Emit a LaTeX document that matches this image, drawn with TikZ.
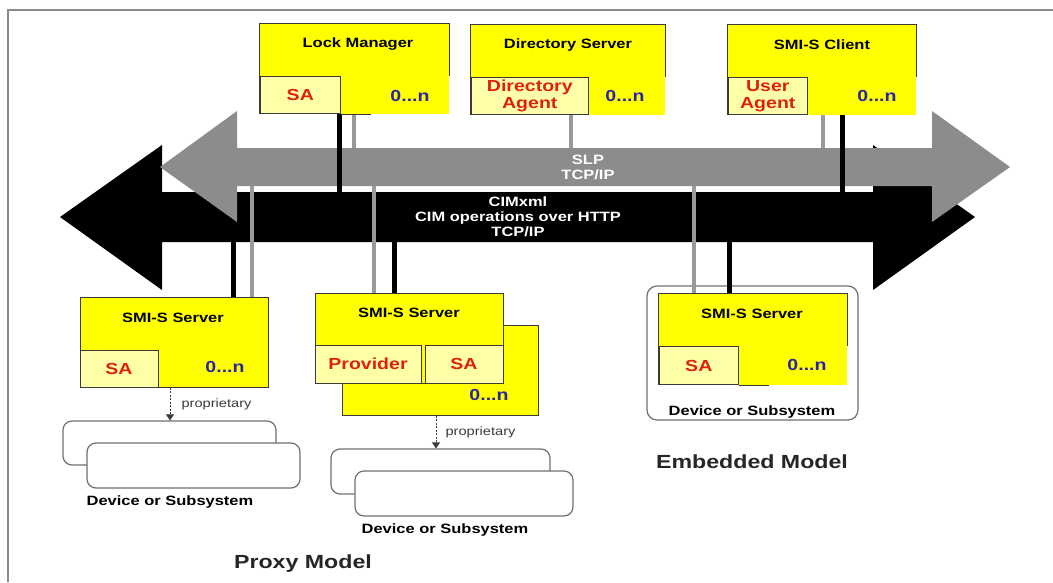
\documentclass[tikz,border=0pt]{standalone}
\usepackage{fontspec}
\setmainfont{Liberation Sans}[FakeStretch=1.22]
\usetikzlibrary{arrows.meta}
\definecolor{boxyellow}{HTML}{FFFF00}
\definecolor{paleyellow}{HTML}{FFFFA8}
\definecolor{bordcol}{HTML}{3A3A3A}
\definecolor{sared}{HTML}{E0200F}
\definecolor{multblue}{HTML}{2A24A8}
\definecolor{slpgray}{HTML}{8C8C8C}
\definecolor{conngray}{HTML}{9A9A9A}
\definecolor{devgray}{HTML}{707070}
\definecolor{framegray}{HTML}{8A8A8A}
\begin{document}
\begin{tikzpicture}[x=1pt,y=-1pt,
  ybox/.style={fill=boxyellow, inner sep=0pt},
  ybord/.style={ybox, draw=bordcol, line width=1pt},
  bord/.style={draw=bordcol, line width=1pt},
  subbox/.style={fill=paleyellow, draw=bordcol, line width=1pt, inner sep=0pt, align=center,
    text=sared, font=\bfseries\fontsize{16}{17}\selectfont},
  ttl/.style={font=\bfseries\fontsize{13.5}{15}\selectfont, text=black},
  mult/.style={font=\bfseries\fontsize{16}{17}\selectfont, text=multblue},
  gline/.style={draw=conngray, line width=4pt},
  bline/.style={draw=black, line width=5pt},
  dev/.style={draw=devgray, line width=1.2pt, fill=white, rounded corners=9pt, inner sep=0pt},
  buslbl/.style={text=white, align=center, font=\bfseries\fontsize{13.5}{15}\selectfont},
  prop/.style={draw=bordcol, line width=0.8pt, dash pattern=on 2pt off 1.5pt, -{Triangle[length=6pt,width=8pt]}},
  proplbl/.style={font=\fontsize{12}{13}\selectfont, text=bordcol, anchor=west},
  model/.style={font=\bfseries\fontsize{19}{21}\selectfont, text=black!85}
]
\useasboundingbox (0,0) rectangle (1053,582);
\draw[framegray, line width=1.5pt] (8,582) -- (8,10) -- (1053,10);

% ---- bus arrows ----
\node[inner sep=0pt, minimum width=711pt, minimum height=50pt] (cim) at (517.5,217) {};
\node[inner sep=0pt, minimum width=695pt, minimum height=38pt] (slp) at (584.5,167) {};
\fill[black] (60,217) -- (162,145) -- (162,192) -- (873,192) -- (873,145) -- (975,217)
  -- (873,290) -- (873,242) -- (162,242) -- (162,290) -- cycle;
\fill[slpgray] (160,167) -- (237,111) -- (237,148) -- (932,148) -- (932,111) -- (1010,167)
  -- (932,222) -- (932,186) -- (237,186) -- (237,222) -- cycle;
\node[buslbl] at (588,167) {SLP\\TCP/IP};
\node[buslbl] at (518,217) {CIMxml\\CIM operations over HTTP\\TCP/IP};

% ---- top boxes ----
\node[ybox, minimum width=189pt, minimum height=90pt] (lm) at (354.5,69) {};
\node[ybox, minimum width=194pt, minimum height=90pt] (ds) at (568,70) {};
\node[ybox, minimum width=188pt, minimum height=90pt] (cl) at (822,70) {};

% ---- bottom boxes ----
\node[ybord, minimum width=188pt, minimum height=90pt] (p1) at (174,342) {};
\node[ybord, minimum width=196pt, minimum height=90pt] (p2back) at (440,370) {};
\node[ybord, minimum width=188pt, minimum height=90pt] (p2) at (409,338) {};
\node[dev, minimum width=211pt, minimum height=134pt, rounded corners=10pt] (emb) at (752.5,353) {};
\node[ybox, minimum width=188pt, minimum height=91pt] (embs) at (753,339.5) {};

% ---- connectors ----
\draw[bline] (lm.south -| 339,0) -- (cim.north -| 339,0);
\draw[gline] (lm.south -| 354,0) -- (slp.north -| 354,0);
\draw[gline] (ds.south -| 571,0) -- (slp.north -| 571,0);
\draw[gline] (cl.south -| 823,0) -- (slp.north -| 823,0);
\draw[bline] (cl.south -| 842,0) -- (cim.north -| 842,0);
\draw[bline] (cim.south -| 233,0) -- (p1.north -| 233,0);
\draw[gline] (slp.south -| 252,0) -- (p1.north -| 252,0);
\draw[gline] (slp.south -| 374,0) -- (p2.north -| 374,0);
\draw[bline] (cim.south -| 394,0) -- (p2.north -| 394,0);
\draw[gline] (slp.south -| 694,0) -- (embs.north -| 694,0);
\draw[bline] (cim.south -| 729,0) -- (embs.north -| 729,0);

% ---- top box details ----
\node[subbox, minimum width=80pt, minimum height=37pt, anchor=south west] (lmsa) at (lm.south west) {SA};
\draw[bord] (lm.south west) |- (lm.north east) -- (lmsa.north -| lm.east);
\draw[bord] (lmsa.south east) -- ++(30,0);
\node[ttl] at (358,44) {Lock Manager};
\node[mult] at (410,96) {0...n};

\node[subbox, minimum width=117pt, minimum height=37pt, anchor=south west] (dsda) at (ds.south west) {Directory\\Agent};
\draw[bord] (ds.south west) |- (ds.north east) -- (dsda.north -| ds.east);
\node[ttl] at (568,45) {Directory Server};
\node[mult] at (625,96) {0...n};

\node[subbox, minimum width=79pt, minimum height=37pt, anchor=south west] (clua) at (cl.south west) {User\\Agent};
\draw[bord] (cl.south west) |- (cl.north east) -- (clua.north -| cl.east);
\node[ttl] at (822,45) {SMI-S Client};
\node[mult] at (877,96) {0...n};

% ---- proxy server 1 ----
\node[subbox, minimum width=78pt, minimum height=37pt, anchor=south west] (p1sa) at (p1.south west) {SA};
\node[ttl] at (173,318) {SMI-S Server};
\node[mult] at (225,367) {0...n};
\node[dev, minimum width=213pt, minimum height=44pt] (d1b) at (169.5,443) {};
\node[dev, minimum width=213pt, minimum height=45pt] (d1f) at (193.5,465.5) {};
\draw[prop] (p1.south -| 170,0) -- (d1b.north -| 170,0);
\node[proplbl] at (178,404) {proprietary};
\node[ttl] at (170,502) {Device or Subsystem};

% ---- proxy server 2 ----
\node[subbox, minimum width=106pt, minimum height=38pt, anchor=south west] (p2pr) at (p2.south west) {Provider};
\node[subbox, minimum width=78pt, minimum height=38pt, anchor=south east] (p2sa) at (p2.south east) {SA};
\node[ttl] at (409,313) {SMI-S Server};
\node[mult] at (489,395) {0...n};
\node[dev, minimum width=219pt, minimum height=45pt] (d2b) at (440.5,471.5) {};
\node[dev, minimum width=218pt, minimum height=45pt] (d2f) at (464,493.5) {};
\draw[prop] (p2back.south -| 436,0) -- (d2b.north -| 436,0);
\node[proplbl] at (442,432) {proprietary};
\node[ttl] at (445,530) {Device or Subsystem};
\node[model] at (303,564) {Proxy Model};

% ---- embedded ----
\node[subbox, minimum width=79pt, minimum height=38pt, anchor=south west] (embsa) at (embs.south west) {SA};
\draw[bord] (embs.south west) |- (embs.north east) -- (embsa.north -| embs.east);
\draw[bord] (embsa.south east) -- ++(30,0);
\node[ttl] at (752,314) {SMI-S Server};
\node[mult] at (807,365) {0...n};
\node[ttl] at (752,412) {Device or Subsystem};
\node[model] at (752,462) {Embedded Model};
\end{tikzpicture}
\end{document}
